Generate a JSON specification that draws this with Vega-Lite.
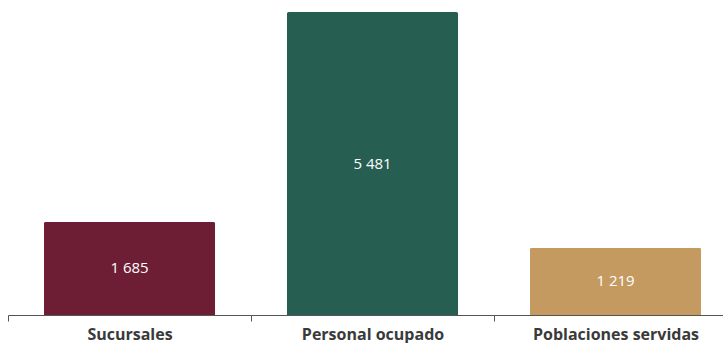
{
  "$schema": "https://vega.github.io/schema/vega-lite/v6.json",
  "width": 729,
  "height": 315,
  "autosize": "none",
  "padding": {"left": 8, "top": 0, "right": 0, "bottom": 28},
  "config": {
    "view": {"stroke": null},
    "locale": {"number": {"decimal": ".", "thousands": " ", "grouping": [3], "currency": ["$", ""]}}
  },
  "data": {
    "values": [
      {"categoria": "Sucursales", "valor": 1685},
      {"categoria": "Personal ocupado", "valor": 5481},
      {"categoria": "Poblaciones servidas", "valor": 1219}
    ]
  },
  "encoding": {
    "x": {
      "field": "categoria",
      "type": "nominal",
      "sort": null,
      "scale": {"paddingInner": 0, "paddingOuter": 0},
      "axis": {
        "title": null,
        "labelAngle": 0,
        "labelFont": "Open Sans",
        "labelFontWeight": "bold",
        "labelFontSize": 16,
        "labelColor": "#3a3a3a",
        "labelPadding": 5,
        "tickBand": "extent",
        "tickSize": 6,
        "tickColor": "#555555",
        "domainColor": "#555555",
        "domainWidth": 1.2
      }
    }
  },
  "layer": [
    {
      "mark": {"type": "bar", "width": {"band": 0.705}, "cornerRadiusTopLeft": 2, "cornerRadiusTopRight": 2},
      "encoding": {
        "y": {"field": "valor", "type": "quantitative", "scale": {"domain": [0, 5700], "nice": false}, "axis": null},
        "color": {
          "field": "categoria",
          "type": "nominal",
          "scale": {"domain": ["Sucursales", "Personal ocupado", "Poblaciones servidas"], "range": ["#6e1e34", "#265e52", "#c49a61"]},
          "legend": null
        }
      }
    },
    {
      "mark": {"type": "text", "color": "white", "font": "Open Sans", "fontSize": 15, "baseline": "middle"},
      "encoding": {
        "y": {"field": "valor", "type": "quantitative", "scale": {"domain": [0, 11400], "nice": false}, "axis": null},
        "text": {"field": "valor", "type": "quantitative", "format": ",d"}
      }
    }
  ],
  "resolve": {"scale": {"y": "independent"}}
}
